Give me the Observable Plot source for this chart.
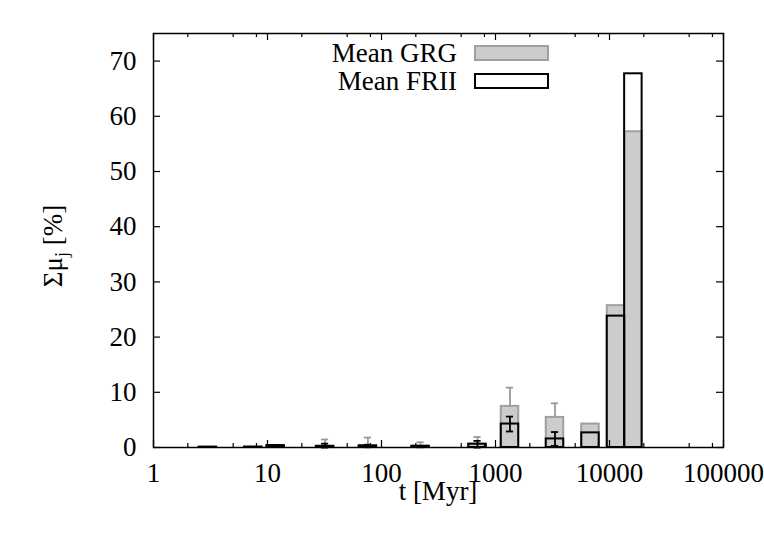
<!DOCTYPE html>
<html>
<head>
<meta charset="utf-8">
<script src="https://cdn.jsdelivr.net/npm/d3@7"></script>
<script src="https://cdn.jsdelivr.net/npm/@observablehq/plot@0.6"></script>
<style>
  html, body { margin: 0; padding: 0; background: white; }
  #chart { position: relative; width: 764px; height: 535px; overflow: hidden; }
  #chart svg text { font-family: "Liberation Serif", "Times New Roman", serif; }
</style>
</head>
<body>
<div id="chart"></div>
<script>
// ages of the stellar population bins (Myr)
const ages    = [3, 7.5, 11.8, 32, 76, 220, 695, 1340, 3325, 6810, 11400, 16200];
// Mean GRG contribution [%] and its error
const grg     = [0.1, 0.15, 0.3, 0.25, 0.3, 0.3, 0.6, 7.45, 5.45, 4.25, 25.7, 57.2];
const grgErr  = [0, 0, 0, 1.2, 1.5, 0.65, 1.3, 3.4, 2.55, 0, 0, 0];
// Mean FRII contribution [%] and its error
const frii    = [0.05, 0.05, 0.35, 0.2, 0.3, 0.2, 0.6, 4.25, 1.55, 2.65, 23.8, 67.7];
const friiErr = [0, 0, 0.1, 0.5, 0.2, 0.1, 0.6, 1.35, 1.25, 0, 0, 0];

const xTicks = [1, 10, 100, 1000, 10000, 100000];
const xMinor = [2, 5, 8, 20, 50, 80, 200, 500, 800, 2000, 5000, 8000, 20000, 50000, 80000];
const yTicks = [0, 10, 20, 30, 40, 50, 60, 70];

const seriesNames = ["Mean GRG", "Mean FRII"];

const halfW = 1.193;   // bar half-width (log factor)
const capW = 1.075;    // error cap half-width (log factor)
const majY = 1.27, minY = 0.72;  // inward tick lengths in y units
const majX = 1.152, yMax = 75, xMin = 1, xMax = 100000;
const FS = 27;

const rows = ages.map((t, i) => ({
  t, x1: t / halfW, x2: t * halfW,
  grg: grg[i], grgErr: grgErr[i], frii: frii[i], friiErr: friiErr[i]
}));
const gE = rows.filter(d => d.grgErr > 0);
const fE = rows.filter(d => d.friiErr > 0);

const grey = "#cccccc", greyStroke = "#a0a0a0", errGrey = "#999999";

function errMarks(data, v, e, color) {
  return [
    Plot.ruleX(data, {x: "t", y1: d => Math.max(0, d[v] - d[e]), y2: d => d[v] + d[e], stroke: color, strokeWidth: 1.8}),
    Plot.ruleY(data, {y: d => d[v] + d[e], x1: d => d.t / capW, x2: d => d.t * capW, stroke: color, strokeWidth: 1.8}),
    Plot.ruleY(data, {y: d => Math.max(0, d[v] - d[e]), x1: d => d.t / capW, x2: d => d.t * capW, stroke: color, strokeWidth: 1.8})
  ];
}

const plot = Plot.plot({
  width: 764, height: 535,
  marginLeft: 153, marginRight: 41, marginTop: 33, marginBottom: 88,
  x: {type: "log", domain: [xMin, xMax]},
  y: {domain: [0, yMax]},
  style: {fontFamily: "Liberation Serif, serif", fontSize: FS + "px", background: "white", color: "black"},
  marks: [
    ...errMarks(gE, "grg", "grgErr", errGrey),
    Plot.rectY(rows, {x1: "x1", x2: "x2", y: "grg", fill: grey, stroke: greyStroke, strokeWidth: 2}),
    Plot.rectY(rows, {x1: "x1", x2: "x2", y: "frii", fill: "none", stroke: "black", strokeWidth: 2}),
    ...errMarks(fE, "frii", "friiErr", "black"),
    // inward ticks
    Plot.ruleX(xTicks, {x: d => d, y1: 0, y2: majY, stroke: "black", strokeWidth: 1.2}),
    Plot.ruleX(xTicks, {x: d => d, y1: yMax, y2: yMax - majY, stroke: "black", strokeWidth: 1.2}),
    Plot.ruleX(xMinor, {x: d => d, y1: 0, y2: minY, stroke: "black", strokeWidth: 1.2}),
    Plot.ruleX(xMinor, {x: d => d, y1: yMax, y2: yMax - minY, stroke: "black", strokeWidth: 1.2}),
    Plot.ruleY(yTicks, {y: d => d, x1: xMin, x2: xMin * majX, stroke: "black", strokeWidth: 1.2}),
    Plot.ruleY(yTicks, {y: d => d, x1: xMax / majX, x2: xMax, stroke: "black", strokeWidth: 1.2}),
    Plot.frame({stroke: "black", strokeWidth: 1.5}),
    Plot.axisX({ticks: xTicks, tickSize: 0, tickPadding: 15, tickFormat: d => String(d), label: null, fontSize: FS}),
    Plot.axisY({ticks: yTicks, tickSize: 0, tickPadding: 17, label: null, fontSize: FS})
  ]
});

document.getElementById("chart").appendChild(plot);

// make sure every axis label uses the same size
const svg = d3.select(plot);
svg.selectAll('g[aria-label="x-axis tick label"], g[aria-label="y-axis tick label"]')
  .attr("font-size", FS).selectAll("text").attr("font-size", FS);

// legend, axis titles
const lg = svg.append("g").attr("font-size", FS);
const legendRows = [
  {name: seriesNames[0], fill: grey, stroke: greyStroke, cy: 53},
  {name: seriesNames[1], fill: "white", stroke: "black", cy: 81}
];
legendRows.forEach(r => {
  lg.append("text").attr("x", 457).attr("y", r.cy).attr("text-anchor", "end")
    .attr("dominant-baseline", "central").text(r.name);
  lg.append("rect").attr("x", 475).attr("y", r.cy - 7).attr("width", 73).attr("height", 14)
    .attr("fill", r.fill).attr("stroke", r.stroke).attr("stroke-width", 2);
});

svg.append("text").attr("x", 438).attr("y", 500).attr("text-anchor", "middle")
  .attr("font-size", FS).text("t [Myr]");

const yl = svg.append("text").attr("transform", "translate(62,246) rotate(-90)")
  .attr("text-anchor", "middle").attr("font-size", FS);
yl.append("tspan").text("Σμ");
yl.append("tspan").attr("font-size", 18).attr("dy", 6).text("j");
yl.append("tspan").attr("dy", -6).text(" [%]");
</script>
</body>
</html>
